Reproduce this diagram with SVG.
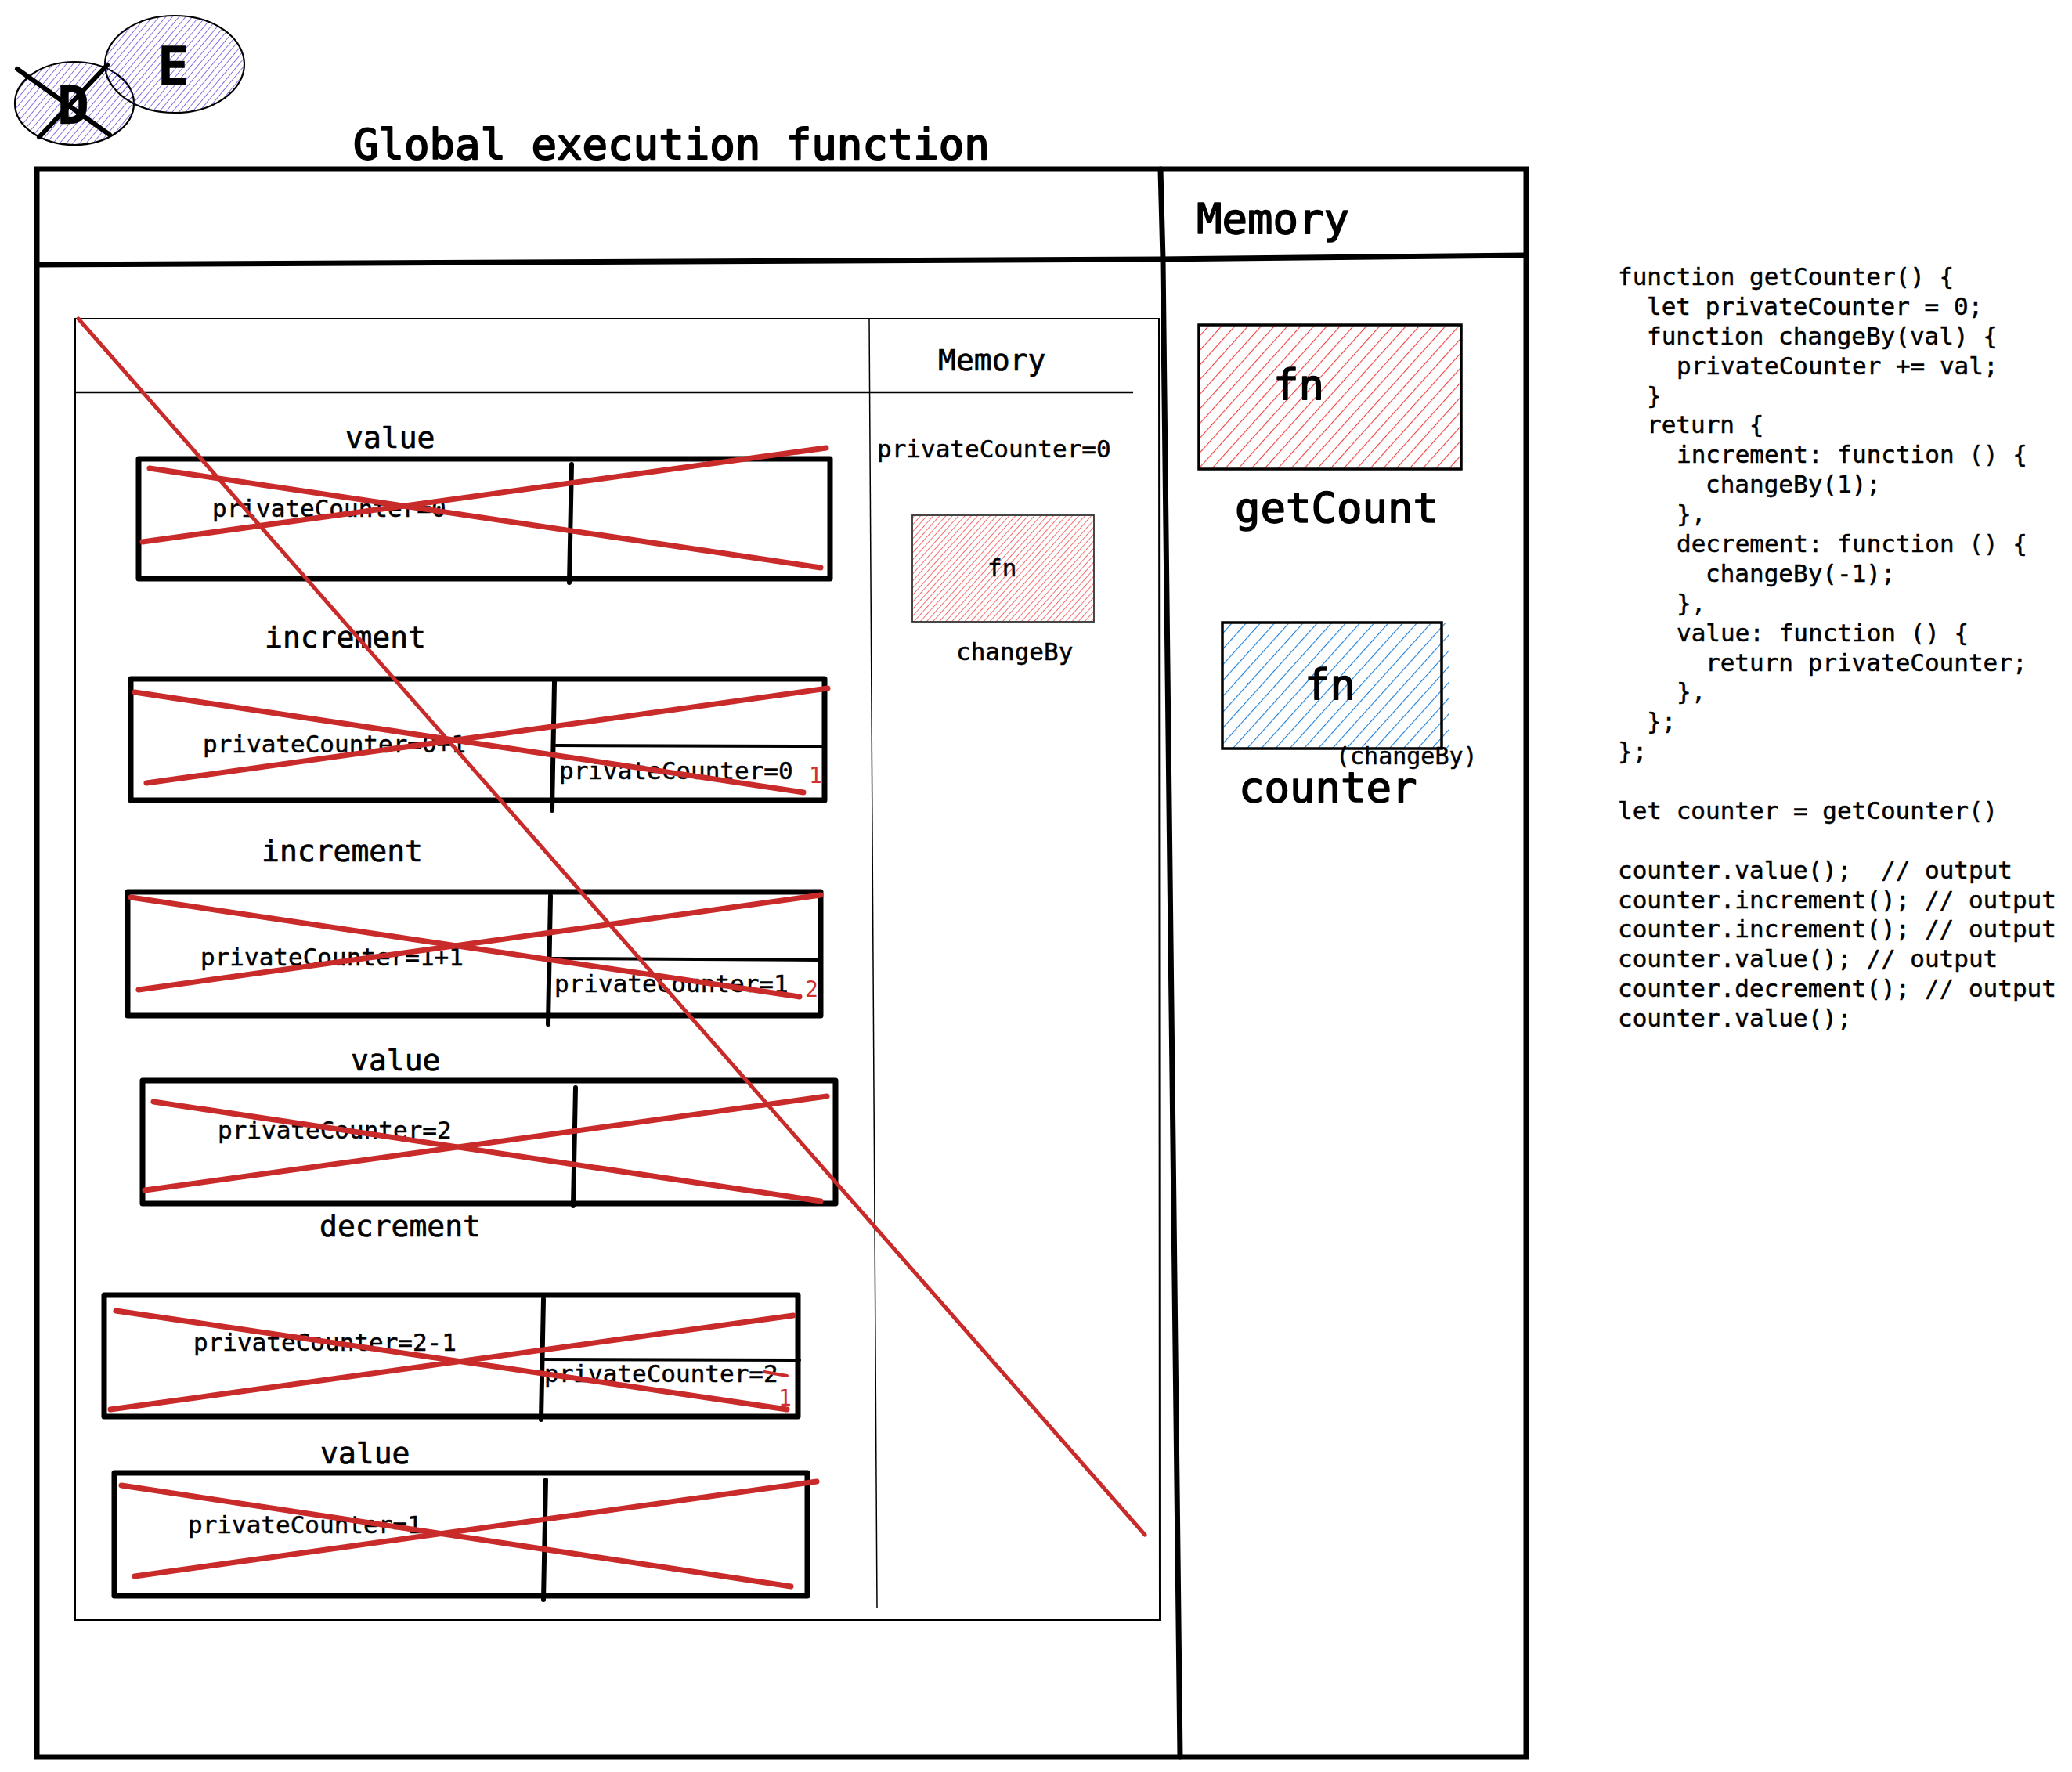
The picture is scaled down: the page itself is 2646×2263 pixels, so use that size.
<svg xmlns="http://www.w3.org/2000/svg" width="2646" height="2263" viewBox="0 0 2646 2263">
<style>
.mono{font-family:"DejaVu Sans Mono","Liberation Mono",monospace;fill:#000;stroke:#000;stroke-linejoin:round}
.t54{font-size:54px;stroke-width:1.6}
.t38{font-size:38px;stroke-width:0.7}
.t31{font-size:31px;stroke-width:0.5}
.code{font-size:31px;stroke-width:0.5}
.big{font-size:68px;font-weight:bold;stroke-width:0.5}
.red{fill:#d32f2f;stroke:none;font-size:28px}
.frame{fill:none;stroke:#000;stroke-width:7;stroke-linejoin:round}
.div{stroke:#000;stroke-width:6;stroke-linecap:round;fill:none}
.sub{stroke:#000;stroke-width:4;stroke-linecap:round;fill:none}
.thick{stroke:#000;stroke-width:7;stroke-linecap:round;fill:none}
.thin{stroke:#000;stroke-width:2;fill:none}
.strike{stroke:#c92a2a;stroke-width:7;stroke-linecap:round;fill:none}
</style>
<defs>
<pattern id="hRed" width="12.5" height="12.5" patternUnits="userSpaceOnUse" patternTransform="rotate(42)">
<line x1="0" y1="0" x2="0" y2="12.5" stroke="#f03e3e" stroke-width="2.2"/>
</pattern>
<pattern id="hRedS" width="6" height="6" patternUnits="userSpaceOnUse" patternTransform="rotate(42)">
<line x1="0" y1="0" x2="0" y2="6" stroke="#f03e3e" stroke-width="1.5"/>
</pattern>
<pattern id="hBlue" width="13.5" height="13.5" patternUnits="userSpaceOnUse" patternTransform="rotate(42)">
<line x1="0" y1="0" x2="0" y2="13.5" stroke="#1c7ed6" stroke-width="2.2"/>
</pattern>
<pattern id="hPur" width="6.5" height="6.5" patternUnits="userSpaceOnUse" patternTransform="rotate(40)">
<line x1="0" y1="0" x2="0" y2="6.5" stroke="#6741d9" stroke-width="1.5"/>
</pattern>
</defs>
<rect width="2646" height="2263" fill="#fff"/>

<g id="logo-D">
<ellipse cx="95" cy="132" rx="76" ry="53" fill="url(#hPur)" stroke="#000" stroke-width="2.2"/>
<text class="mono big" x="73" y="158">D</text>
<line x1="22" y1="88" x2="140" y2="172" class="div"/>
<line x1="137" y1="83" x2="50" y2="175" class="div"/>
</g>
<g id="logo-E">
<ellipse cx="223" cy="82" rx="89" ry="62" fill="url(#hPur)" stroke="#000" stroke-width="2.2"/>
<text class="mono big" x="201" y="108">E</text>
</g>

<g id="title">
<text class="mono t54" x="451" y="203" style="stroke-width:2">Global execution function</text>
</g>

<g id="outer-frame">
<path d="M47 216 L1949 216 L1949 2244 L47 2244 Z" class="thick"/>
<path d="M47 338 L1482 331 L1949 326" class="thick"/>
<path d="M1482 216 L1485 331 L1507 2244" class="thick"/>
</g>

<g id="global-memory">
<text class="mono t54" x="1528" y="298">Memory</text>
</g>

<g id="getCount">
<rect x="1531" y="415" width="335" height="184" fill="url(#hRed)" stroke="#000" stroke-width="3.5"/>
<text class="mono t54" x="1626" y="510">fn</text>
<text class="mono t54" x="1577" y="667">getCount</text>
</g>

<g id="counter">
<rect x="1561" y="795" width="290" height="161" fill="url(#hBlue)"/>
<rect x="1561" y="795" width="280" height="161" fill="none" stroke="#000" stroke-width="3.5"/>
<text class="mono t54" x="1666" y="893">fn</text>
<text class="mono t31" x="1706" y="976" style="font-size:30px">(changeBy)</text>
<text class="mono t54" x="1582" y="1024">counter</text>
</g>

<g id="code" class="mono code">
<text x="2066" y="364">function getCounter() {</text>
<text x="2103" y="402">let privateCounter = 0;</text>
<text x="2103" y="440">function changeBy(val) {</text>
<text x="2141" y="478">privateCounter += val;</text>
<text x="2103" y="516">}</text>
<text x="2103" y="553">return {</text>
<text x="2141" y="591">increment: function () {</text>
<text x="2178" y="629">changeBy(1);</text>
<text x="2141" y="667">},</text>
<text x="2141" y="705">decrement: function () {</text>
<text x="2178" y="743">changeBy(-1);</text>
<text x="2141" y="781">},</text>
<text x="2141" y="819">value: function () {</text>
<text x="2178" y="857">return privateCounter;</text>
<text x="2141" y="894">},</text>
<text x="2103" y="932">};</text>
<text x="2066" y="970">};</text>
<text x="2066" y="1046">let counter = getCounter()</text>
<text x="2066" y="1122">counter.value();<tspan x="2402">// output</tspan></text>
<text x="2066" y="1160">counter.increment(); // output</text>
<text x="2066" y="1197">counter.increment(); // output</text>
<text x="2066" y="1235">counter.value(); // output</text>
<text x="2066" y="1273">counter.decrement(); // output</text>
<text x="2066" y="1311">counter.value();</text>
</g>

<g id="inner-frame">
<path d="M96 407 L1480 407 L1481 2069 L96 2069 Z" class="thin"/>
<line x1="96" y1="501" x2="1447" y2="501" class="thin" style="stroke-width:2.5"/>
<line x1="1110" y1="407" x2="1120" y2="2054" class="thin" style="stroke-width:1.5"/>
<text class="mono t38" x="1198" y="473">Memory</text>
</g>

<g id="inner-memory">
<text class="mono t31" x="1120" y="584">privateCounter=0</text>
<rect x="1165" y="658" width="232" height="136" fill="url(#hRedS)" stroke="#333" stroke-width="1.8"/>
<text class="mono t31" x="1261" y="736">fn</text>
<text class="mono t31" x="1221" y="843">changeBy</text>
</g>

<g id="frame-1">
<text class="mono t38" x="441" y="572">value</text>
<rect x="177" y="586" width="883" height="153" class="frame"/>
<line x1="730" y1="593" x2="727" y2="744" class="div"/>
<text class="mono t31" x="271" y="660">privateCounter=0</text>
</g>

<g id="frame-2">
<text class="mono t38" x="338" y="827">increment</text>
<rect x="167" y="867" width="886" height="155" class="frame"/>
<line x1="708" y1="871" x2="705" y2="1035" class="div"/>
<line x1="710" y1="952" x2="1053" y2="953" class="sub"/>
<text class="mono t31" x="259" y="961">privateCounter=0+1</text>
<text class="mono t31" x="714" y="995">privateCounter=0</text>
<text class="mono red" x="1033" y="1000">1</text>
</g>

<g id="frame-3">
<text class="mono t38" x="334" y="1100">increment</text>
<rect x="163" y="1139" width="885" height="158" class="frame"/>
<line x1="703" y1="1144" x2="700" y2="1308" class="div"/>
<line x1="703" y1="1224" x2="1046" y2="1226" class="sub"/>
<text class="mono t31" x="256" y="1233">privateCounter=1+1</text>
<text class="mono t31" x="708" y="1267">privateCounter=1</text>
<text class="mono red" x="1028" y="1273">2</text>
</g>

<g id="frame-4">
<text class="mono t38" x="448" y="1367">value</text>
<rect x="182" y="1380" width="885" height="157" class="frame"/>
<line x1="735" y1="1389" x2="732" y2="1540" class="div"/>
<text class="mono t31" x="278" y="1454">privateCounter=2</text>
<text class="mono t38" x="408" y="1579">decrement</text>
</g>

<g id="frame-5">
<rect x="133" y="1654" width="886" height="155" class="frame"/>
<line x1="694" y1="1659" x2="691" y2="1813" class="div"/>
<line x1="691" y1="1736" x2="1021" y2="1737" class="sub"/>
<text class="mono t31" x="247" y="1725">privateCounter=2-1</text>
<text class="mono t31" x="695" y="1765">privateCounter=2</text>
<text class="mono red" x="994" y="1795">1</text>
</g>

<g id="frame-6">
<text class="mono t38" x="409" y="1869">value</text>
<rect x="146" y="1881" width="885" height="157" class="frame"/>
<line x1="697" y1="1890" x2="694" y2="2043" class="div"/>
<text class="mono t31" x="240" y="1958">privateCounter=1</text>
</g>

<g id="connectors">
<g id="strikes">
<line x1="191" y1="598" x2="1048" y2="725" class="strike"/>
<line x1="182" y1="692" x2="1055" y2="572" class="strike"/>
<line x1="172" y1="884" x2="1026" y2="1012" class="strike"/>
<line x1="187" y1="1000" x2="1057" y2="879" class="strike"/>
<line x1="167" y1="1146" x2="1021" y2="1273" class="strike"/>
<line x1="177" y1="1264" x2="1048" y2="1143" class="strike"/>
<line x1="196" y1="1407" x2="1048" y2="1534" class="strike"/>
<line x1="185" y1="1520" x2="1056" y2="1400" class="strike"/>
<line x1="148" y1="1674" x2="1005" y2="1800" class="strike"/>
<line x1="141" y1="1800" x2="1013" y2="1680" class="strike"/>
<line x1="976" y1="1752" x2="1005" y2="1757" class="strike" style="stroke-width:4"/>
<line x1="155" y1="1897" x2="1010" y2="2026" class="strike"/>
<line x1="172" y1="2013" x2="1043" y2="1892" class="strike"/>
<line x1="100" y1="407" x2="1462" y2="1960" class="strike" style="stroke-width:5"/>
</g>
</g>
</svg>
